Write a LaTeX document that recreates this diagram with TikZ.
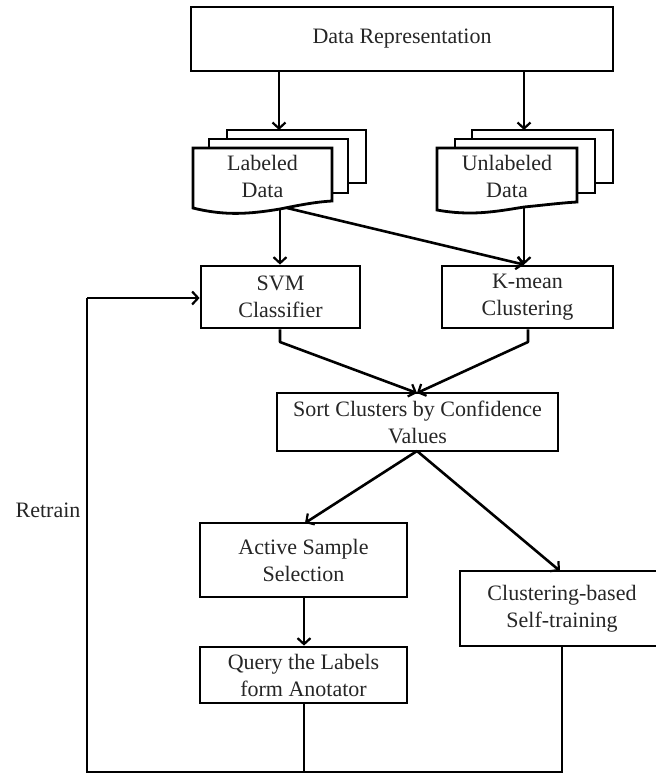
\documentclass[tikz,border=0pt]{standalone}
\usepackage{fontspec}
\setmainfont{Liberation Serif}
\usetikzlibrary{arrows.meta}
\begin{document}
\begin{tikzpicture}[x=1pt,y=-1pt,
  every node/.style={font=\fontsize{22}{27}\selectfont, text=black!85},
  box/.style={draw, line width=2.8pt, rectangle, align=center, inner sep=0pt},
  page/.style={draw, fill=white, line width=2.8pt, line join=miter},
  conn/.style={line width=2.6pt},
  arr/.style={conn, -{Straight Barb[length=6pt,width=13pt,line width=2.2pt]}}]
\clip (0,0) rectangle (656,774);
\fill[white] (0,0) rectangle (656,774);

% process boxes
\node[box, minimum width=422pt, minimum height=64pt] (datarep) at (402,39) {Data Representation};
\node[box, minimum width=159pt, minimum height=62pt] (svm) at (280.5,297) {SVM\\Classifier};
\node[box, minimum width=171pt, minimum height=62pt] (kmean) at (527.5,297) {K-mean\\Clustering};
\node[box, minimum width=281pt, minimum height=58pt] (sort) at (417.5,422) {Sort Clusters by Confidence\\Values};
\node[box, minimum width=207pt, minimum height=74pt] (active) at (303.5,560) {Active Sample\\Selection};
\node[box, minimum width=207pt, minimum height=56pt] (query) at (303.5,675) {Query the Labels\\form Anotator};
\node[box, minimum width=204pt, minimum height=75pt] (self) at (562,608.5) {Clustering-based\\Self-training};
\node (retrain) at (48,510) {Retrain};

% labeled data stack
\draw[page] (227,130) rectangle (366,183);
\draw[page] (209,139) rectangle (348,193);
\draw[page] (193,148) -- (332,148) -- (332,201)
  .. controls (315,202) and (300,205) .. (280,209)
  .. controls (250,214) and (225,216) .. (193,208) -- cycle;
\node[align=center] (labeled) at (262.5,176) {Labeled\\Data};

% unlabeled data stack
\draw[page] (472,130) rectangle (613,183);
\draw[page] (455,139) rectangle (595,193);
\draw[page] (437,148) -- (577,148) -- (577,202)
  .. controls (560,203) and (545,205) .. (524,207)
  .. controls (494,212) and (470,216) .. (437,210) -- cycle;
\node[align=center] (unlabeled) at (507,176) {Unlabeled\\Data};

% connector anchors
\coordinate (ltop) at (279,130);
\coordinate (utop) at (524,130);
\coordinate (lbot) at (280,209);
\coordinate (lbot2) at (287,208);
\coordinate (ubot) at (524,207);
\coordinate (svmk) at (280,342);
\coordinate (kmk) at (528,342);
\coordinate (sortin) at (417,393);
\coordinate (sortout) at (417,451);
\coordinate (actin) at (305,523);
\coordinate (selfin) at (560,571);
\coordinate (qdown) at (304,772);
\coordinate (sdown) at (562,772);
\coordinate (corner) at (87,772);
\coordinate (rtop) at (87,298);

% connectors
\draw[arr] (datarep.south -| ltop) -- (ltop);
\draw[arr] (datarep.south -| utop) -- (utop);
\draw[arr] (lbot) -- (lbot |- svm.north);
\draw[arr] (lbot2) -- (utop |- kmean.north);
\draw[arr] (ubot) -- (ubot |- kmean.north);
\draw[arr, line join=round] (svm.south -| svmk) -- (svmk) -- (sortin);
\draw[arr, line join=round] (kmean.south -| kmk) -- (kmk) -- (sortin);
\draw[arr] (sortout) -- (actin);
\draw[arr] (sortout) -- (selfin);
\draw[arr] (active.south -| qdown) -- (query.north -| qdown);
\draw[conn] (query.south -| qdown) -- (qdown);
\draw[conn, line join=miter] (self.south -| sdown) -- (sdown) -- (corner) -- (rtop);
\draw[arr] (rtop) -- (svm.west |- rtop);
\end{tikzpicture}
\end{document}
